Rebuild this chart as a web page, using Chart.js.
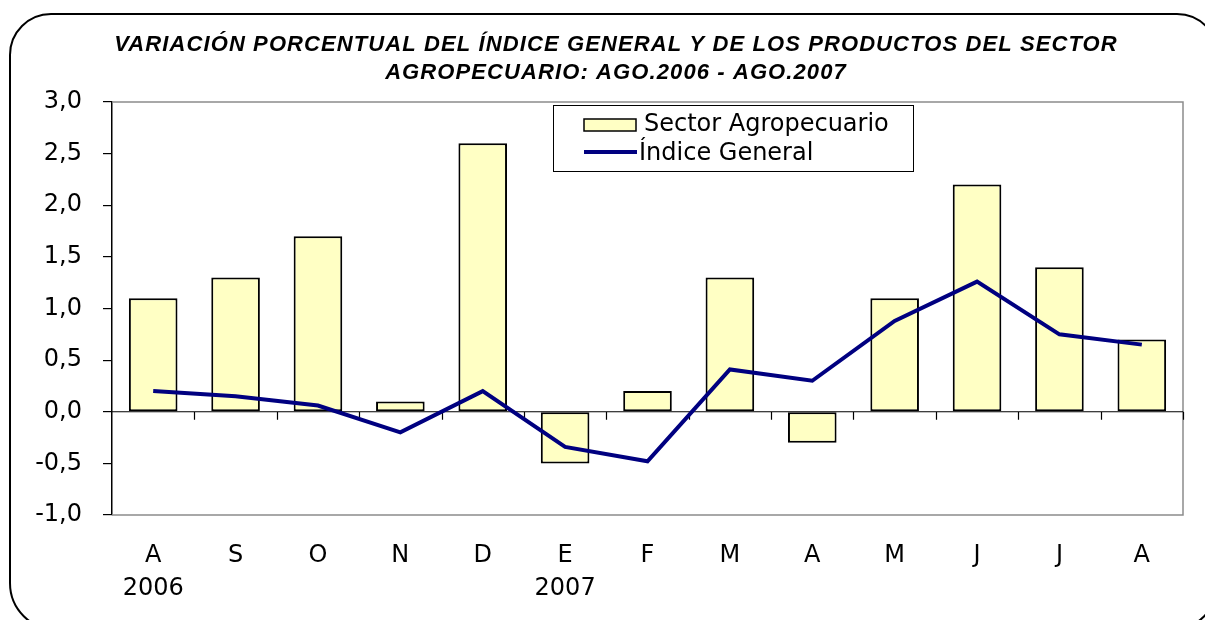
<!DOCTYPE html>
<html>
<head>
<meta charset="utf-8">
<script src="https://cdn.jsdelivr.net/npm/chart.js@4"></script>
<style>
  html,body{margin:0;padding:0;background:#fff;}
  #wrap{position:relative;width:1205px;height:620px;overflow:hidden;}
  canvas{position:absolute;left:0;top:0;}
  #frame{position:absolute;left:9px;top:13px;width:1210px;height:618px;box-sizing:border-box;border:2.5px solid #000;border-radius:42px 42px 48px 48px;pointer-events:none;}
</style>
</head>
<body>
<div id="wrap">
  <canvas id="c" width="1205" height="620"></canvas>
  <div id="frame"></div>
</div>
<script>
const titleLines = ['VARIACIÓN PORCENTUAL DEL ÍNDICE GENERAL Y DE LOS PRODUCTOS DEL SECTOR', 'AGROPECUARIO: AGO.2006 - AGO.2007'];
const months = ['A','S','O','N','D','E','F','M','A','M','J','J','A'];
const years = ['2006','','','','','2007','','','','','','',''];
const sectorAgro = [1.1, 1.3, 1.7, 0.1, 2.6, -0.5, 0.2, 1.3, -0.3, 1.1, 2.2, 1.4, 0.7];
const indiceGeneral = [0.2, 0.15, 0.06, -0.2, 0.2, -0.34, -0.48, 0.41, 0.3, 0.88, 1.26, 0.75, 0.65];
const yTicks = [-1.0, -0.5, 0.0, 0.5, 1.0, 1.5, 2.0, 2.5, 3.0];
const seriesNames = ['Sector Agropecuario', 'Índice General'];

const labels = months.map((m, i) => [m, years[i]]);
const FONT = '"DejaVu Sans", Verdana, sans-serif';

const decor = {
  id: 'decor',
  beforeDatasetsDraw(chart) {
    const {ctx, chartArea: a, scales} = chart;
    ctx.save();
    ctx.strokeStyle = '#8c8c8c';
    ctx.lineWidth = 1.5;
    ctx.beginPath();
    ctx.moveTo(a.left, a.top); ctx.lineTo(a.right, a.top); ctx.lineTo(a.right, a.bottom); ctx.lineTo(a.left, a.bottom);
    ctx.stroke();
    const y0 = scales.y.getPixelForValue(0);
    ctx.strokeStyle = '#000';
    ctx.lineWidth = 1.2;
    ctx.beginPath();
    ctx.moveTo(a.left, y0); ctx.lineTo(a.right, y0);
    const n = months.length;
    const w = (a.right - a.left) / n;
    for (let i = 1; i <= n; i++) {
      const x = Math.round(a.left + i * w) + 0.5;
      ctx.moveTo(x, y0); ctx.lineTo(x, y0 + 8);
    }
    ctx.stroke();
    ctx.restore();
  },
  afterDatasetsDraw(chart) {
    const {ctx} = chart;
    ctx.save();
    ctx.fillStyle = '#fff';
    ctx.fillRect(553, 105, 360, 66);
    ctx.strokeStyle = '#000';
    ctx.lineWidth = 1;
    ctx.strokeRect(553.5, 105.5, 360, 66);
    const ds = chart.data.datasets;
    ctx.fillStyle = ds[0].backgroundColor;
    ctx.fillRect(584, 119, 52, 12);
    ctx.lineWidth = 1.5;
    ctx.strokeRect(584, 119, 52, 12);
    ctx.strokeStyle = ds[1].borderColor;
    ctx.lineWidth = 4;
    ctx.beginPath(); ctx.moveTo(584, 152); ctx.lineTo(637, 152); ctx.stroke();
    ctx.fillStyle = '#000';
    ctx.font = '24px ' + FONT;
    ctx.textBaseline = 'middle';
    ctx.textAlign = 'left';
    ctx.fillText(ds[0].label, 644, 125);
    ctx.fillText(ds[1].label, 639, 154);
    ctx.font = 'italic bold 22px "Liberation Sans", Arial, sans-serif';
    ctx.textAlign = 'center';
    try { ctx.letterSpacing = '1.1px'; } catch (e) {}
    ctx.fillText(titleLines[0], 616, 45);
    ctx.fillText(titleLines[1], 616, 73);
    ctx.restore();
  }
};

new Chart(document.getElementById('c'), {
  data: {
    labels: labels,
    datasets: [
      {
        type: 'bar',
        label: seriesNames[0],
        data: sectorAgro,
        backgroundColor: '#FFFFC4',
        borderColor: '#000',
        borderWidth: 2,
        borderSkipped: false,
        barPercentage: 0.59,
        categoryPercentage: 1.0,
        order: 2
      },
      {
        type: 'line',
        label: seriesNames[1],
        data: indiceGeneral,
        borderColor: '#000080',
        borderWidth: 4,
        pointRadius: 0,
        tension: 0,
        fill: false,
        order: 1
      }
    ]
  },
  options: {
    responsive: false,
    animation: false,
    devicePixelRatio: 1,
    layout: {padding: {left: 0, right: 22, top: 102, bottom: 0}},
    plugins: {legend: {display: false}, title: {display: false}, tooltip: {enabled: false}},
    scales: {
      x: {
        type: 'category',
        offset: true,
        grid: {display: false, drawTicks: false},
        border: {display: false},
        ticks: {
          color: '#000',
          font: {family: FONT, size: 24, lineHeight: 1.375},
          padding: 24,
          maxRotation: 0,
          autoSkip: false
        },
        afterFit(s) { s.height = 105; }
      },
      y: {
        min: -1, max: 3,
        afterBuildTicks(s) { s.ticks = yTicks.map(v => ({value: v})); },
        grid: {drawOnChartArea: false, drawTicks: true, tickLength: 9, color: '#000', lineWidth: 1.2},
        border: {display: true, color: '#000', width: 1.5},
        ticks: {
          color: '#000',
          font: {family: FONT, size: 24},
          padding: 21,
          callback: v => Number(v).toFixed(1).replace('.', ',')
        },
        afterFit(s) { s.width = 112; }
      }
    }
  },
  plugins: [decor]
});
</script>
</body>
</html>
